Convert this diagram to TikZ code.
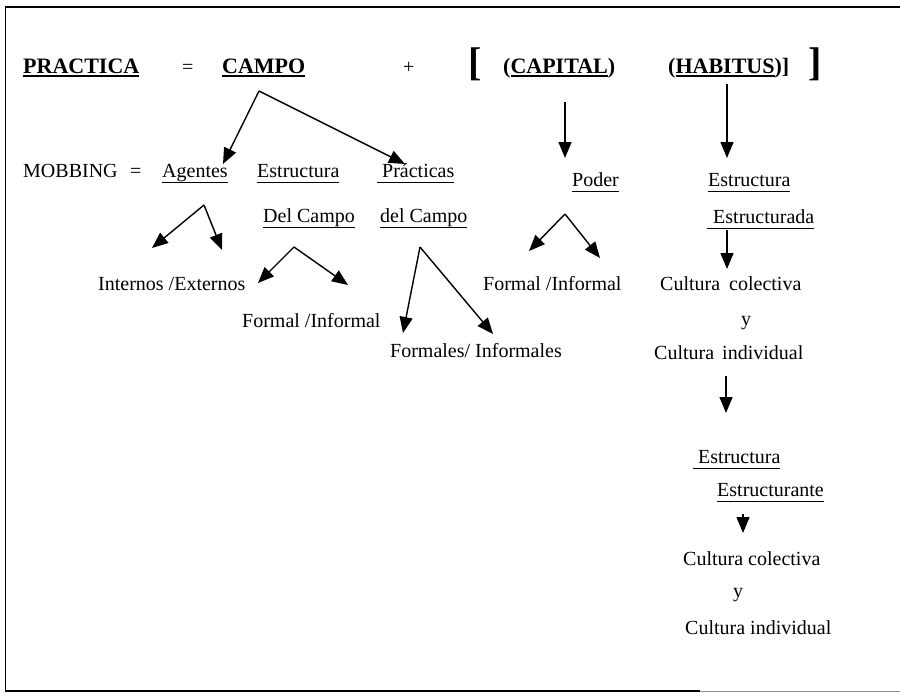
\documentclass[tikz,border=0pt]{standalone}
\usepackage{fontspec}
\setmainfont{Liberation Serif}
\usetikzlibrary{arrows.meta}
\newcommand\ulA[1]{\setbox0\hbox{#1}\rlap{\rule[-4pt]{\wd0}{1.8pt}}\box0}
\newcommand\ulB[1]{\setbox0\hbox{#1}\rlap{\rule[-6pt]{\wd0}{1.1pt}}\box0}
\begin{document}
\begin{tikzpicture}[x=1pt,y=-1pt,
  txt/.style={anchor=base west,inner sep=0pt,font=\fontsize{20}{24}\selectfont},
  hdr/.style={anchor=base west,inner sep=0pt,font=\fontsize{22}{26}\selectfont\bfseries},
  brk/.style={anchor=center,inner sep=0pt,font=\fontsize{40}{44}\selectfont\bfseries},
  arr/.style={line width=1.4pt,-{Triangle[length=16pt,width=13pt]}},
  frame/.style={line width=1.4pt}]
\useasboundingbox (0,0) rectangle (900,696);
% frame
\draw[frame] (5,7) -- (900,7);
\draw[line width=1pt] (5,7) -- (5,692);
\draw[frame] (5,691) -- (700,691);
\draw[line width=1pt,black!45] (700,691) -- (900,691);
% header
\node[hdr] (practica) at (23,73) {\ulA{PRACTICA}};
\node[txt] (eq1) at (182,73) {=};
\node[hdr] (campo) at (222,73) {\ulA{CAMPO}};
\node[txt] (plus) at (403,73) {+};
\node[brk] (lbr) at (475,64) {[};
\node[hdr] (capital) at (503,73) {(\ulA{CAPITAL})};
\node[hdr] (habitus) at (668,73) {(\ulA{HABITUS})]};
\node[brk] (rbr) at (815,64) {]};
% row 2
\node[txt] (mobbing) at (23,177) {MOBBING};
\node[txt] (eq2) at (130,177) {=};
\node[txt] (agentes) at (162,177) {\ulB{Agentes}};
\node[txt] (estr) at (257,177) {\ulB{Estructura}};
\node[txt] (pract) at (377,177) {\ulB{\hspace{5pt}Prácticas}};
\node[txt] (delc1) at (263,222) {\ulB{Del Campo}};
\node[txt] (delc2) at (380,222) {\ulB{del Campo}};
\node[txt] (poder) at (572,186) {\ulB{Poder}};
\node[txt] (estrR) at (708,186) {\ulB{Estructura}};
\node[txt] (estrda) at (707,223) {\ulB{\hspace{6pt}Estructurada}};
% row 3
\node[txt] (intext) at (98,290) {Internos /Externos};
\node[txt] (forinf1) at (242,327) {Formal /Informal};
\node[txt] (forinf2) at (390,357) {Formales/ Informales};
\node[txt] (forinf3) at (483,290) {Formal /Informal};
\node[txt] (cc1) at (660,290) {Cultura\hspace{4pt} colectiva};
\node[txt] (y1) at (741,325) {y};
\node[txt] (ci1) at (654,359) {Cultura\hspace{3pt} individual};
% lower column
\node[txt] (estr2) at (693,463) {\ulB{\hspace{5pt}Estructura}};
\node[txt] (estrte) at (717,496) {\ulB{Estructurante}};
\node[txt] (cc2) at (683,565) {Cultura colectiva};
\node[txt] (y2) at (733,597) {y};
\node[txt] (ci2) at (685,634) {Cultura individual};
% arrow coordinates
\coordinate (cA) at (259,91);
\coordinate (cL) at (223,164);
\coordinate (cR) at (405,164);
\coordinate (kT) at (565,102);
\coordinate (kB) at (565,158);
\coordinate (hT) at (727,84);
\coordinate (hB) at (727,158);
\coordinate (aA) at (204,205);
\coordinate (aL) at (152,248);
\coordinate (aR) at (222,250);
\coordinate (eA) at (294,247);
\coordinate (eL) at (258,283);
\coordinate (eR) at (348,285);
\coordinate (pA) at (420,247);
\coordinate (pL) at (403,333);
\coordinate (pR) at (493,334);
\coordinate (oA) at (565,214);
\coordinate (oL) at (529,251);
\coordinate (oR) at (600,258);
\coordinate (dT) at (727,230);
\coordinate (dB) at (727,269);
\coordinate (iT) at (726,376);
\coordinate (iB) at (726,413);
\coordinate (sT) at (743,514);
\coordinate (sB) at (743,533);
% arrows
\draw[arr] (cA) -- (cL);
\draw[arr] (cA) -- (cR);
\draw[arr] (kT) -- (kB);
\draw[arr] (hT) -- (hB);
\draw[arr] (aA) -- (aL);
\draw[arr] (aA) -- (aR);
\draw[arr] (eA) -- (eL);
\draw[arr] (eA) -- (eR);
\draw[arr] (pA) -- (pL);
\draw[arr] (pA) -- (pR);
\draw[arr] (oA) -- (oL);
\draw[arr] (oA) -- (oR);
\draw[arr] (dT) -- (dB);
\draw[arr] (iT) -- (iB);
\draw[arr] (sT) -- (sB);
\end{tikzpicture}
\end{document}
